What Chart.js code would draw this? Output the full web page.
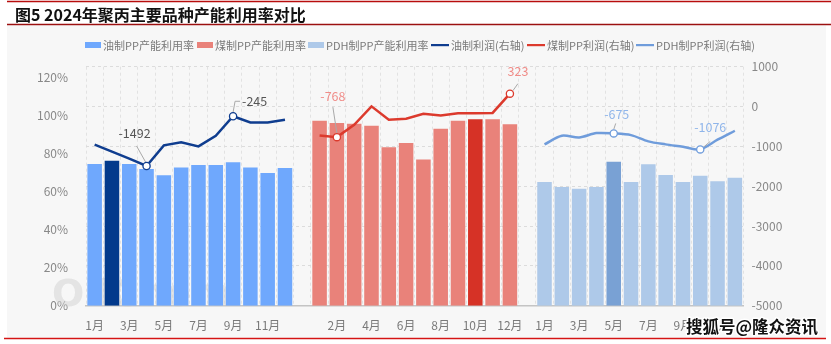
<!DOCTYPE html>
<html>
<head>
<meta charset="utf-8">
<script src="https://cdn.jsdelivr.net/npm/chart.js@4/dist/chart.umd.min.js"></script>
<style>
  html, body { margin: 0; padding: 0; background: #ffffff; }
  #wrap { position: relative; width: 831px; height: 344px; }
  canvas { display: block; }
</style>
</head>
<body>
<div id="wrap"><canvas id="c" width="831" height="344"></canvas></div>
<script>
// Month names shared by the three groups
const months = ['1月','2月','3月','4月','5月','6月','7月','8月','9月','10月','11月','12月'];

// Capacity utilisation, % (left axis)
const oilRate  = [74.6, 76.3, 74.6, 71.9, 68.6, 72.8, 74.0, 74.0, 75.5, 72.8, 69.8, 72.5];
const coalRate = [97.4, 96.2, 95.8, 94.7, 83.4, 85.6, 77.0, 93.2, 97.4, 98.1, 98.1, 95.5];
const pdhRate  = [65.1, 62.5, 61.6, 62.5, 75.8, 65.1, 74.4, 68.8, 65.1, 68.4, 65.5, 67.4];

// Profit, yuan/t (right axis)
const oilProfit  = [-958, -1130, -1310, -1492, -975, -900, -1000, -733, -245, -400, -400, -333];
const coalProfit = [-725, -768, -458, 5, -333, -308, -183, -225, -167, -167, -160, 323];
const pdhProfit  = [-950, -733, -775, -667, -675, -717, -875, -950, -1008, -1076, -833, -608];

// Highlighted month in each group
const oilHighlight = 1, coalHighlight = 9, pdhHighlight = 4;

// Left axis tick values
const rateTicks = [0, 20, 40, 60, 80, 100, 120];

// Category layout: 12 oil months, spacer, 12 coal months, spacer, 12 PDH months
const OIL0 = 0, COAL0 = 13, PDH0 = 26;
const labels = [...months, '', ...months, '', ...months];

function place(arr, offset) {
  return labels.map((_, i) => (i >= offset && i < offset + arr.length) ? arr[i - offset] : null);
}
function barColors(offset, hi, base, dark) {
  return labels.map((_, i) => (i === offset + hi ? dark : base));
}

const FONT = '"Noto Sans CJK SC", "Noto Sans", sans-serif';

const COLORS = {
  oilBar: '#6fa8fd', oilBarDark: '#033a8c',
  coalBar: '#e9827a', coalBarDark: '#d63226',
  pdhBar: '#aec9e9', pdhBarDark: '#79a1d4',
  oilLine: '#0f3d8f', coalLine: '#dc3a2d', pdhLine: '#6f9cdb',
  oilText: '#555555', coalText: '#f08c88', pdhText: '#8fb5ea'
};

// Points that carry a value label, with label offset and leader line
const callouts = [
  { ds: 0, i: OIL0 + 3,  color: COLORS.oilLine,  text: COLORS.oilText,  tx: -12, ty: -33, align: 'center', lead: [[-1,-4],[-10,-20]] },
  { ds: 0, i: OIL0 + 8,  color: COLORS.oilLine,  text: COLORS.oilText,  tx: 9,   ty: -15, align: 'left',   lead: [[0,-4],[2,-15],[7,-15]] },
  { ds: 1, i: COAL0 + 1, color: COLORS.coalLine, text: COLORS.coalText, tx: -4,  ty: -41, align: 'center', lead: [[0,-4],[-4,-30]] },
  { ds: 1, i: COAL0 + 11,color: COLORS.coalLine, text: COLORS.coalText, tx: 8,   ty: -22, align: 'center', lead: [[3,-3],[8,-10]] },
  { ds: 2, i: PDH0 + 4,  color: COLORS.pdhLine,  text: COLORS.pdhText,  tx: 3,   ty: -19, align: 'center', lead: [[0,-4],[2,-10]] },
  { ds: 2, i: PDH0 + 9,  color: COLORS.pdhLine,  text: COLORS.pdhText,  tx: 10,  ty: -22, align: 'center', lead: [[3,-2],[10,-8]] }
];

const legendItems = [
  { kind: 'box',  color: COLORS.oilBar,   label: '油制PP产能利用率', x: 85 },
  { kind: 'box',  color: COLORS.coalBar,  label: '煤制PP产能利用率', x: 197 },
  { kind: 'box',  color: COLORS.pdhBar,   label: 'PDH制PP产能利用率', x: 308 },
  { kind: 'line', color: COLORS.oilLine,  label: '油制利润(右轴)', x: 431 },
  { kind: 'line', color: COLORS.coalLine, label: '煤制PP利润(右轴)', x: 527 },
  { kind: 'line', color: COLORS.pdhLine,  label: 'PDH制PP利润(右轴)', x: 636 }
];

// Page frame, title, legend and watermarks
const framePlugin = {
  id: 'frame',
  beforeDraw(chart) {
    const ctx = chart.ctx;
    ctx.save();
    ctx.fillStyle = '#ffffff';
    ctx.fillRect(0, 0, chart.width, chart.height);
    ctx.fillStyle = '#f7f7f7';
    ctx.fillRect(7, 25.5, 819, 312);
    // rules
    ctx.lineWidth = 1.5;
    ctx.strokeStyle = '#b80d0d';
    ctx.beginPath(); ctx.moveTo(7, 1.5); ctx.lineTo(831, 1.5); ctx.stroke();
    ctx.strokeStyle = '#9b1010';
    ctx.beginPath(); ctx.moveTo(7, 24.5); ctx.lineTo(831, 24.5); ctx.stroke();
    ctx.strokeStyle = '#d41414';
    ctx.beginPath(); ctx.moveTo(4, 338.5); ctx.lineTo(826, 338.5); ctx.stroke();
    // title
    ctx.fillStyle = '#111111';
    ctx.font = 'bold 16px ' + FONT;
    ctx.textBaseline = 'middle';
    ctx.textAlign = 'left';
    ctx.fillText('图5 2024年聚丙主要品种产能利用率对比', 15, 14.5);
    // legend
    ctx.font = '11px ' + FONT;
    legendItems.forEach(it => {
      ctx.fillStyle = it.color;
      if (it.kind === 'box') {
        ctx.fillRect(it.x, 42, 16, 6);
      } else {
        ctx.fillRect(it.x, 44, 18, 2.2);
      }
      ctx.fillStyle = '#7a7a7a';
      ctx.fillText(it.label, it.x + (it.kind === 'box' ? 18 : 20), 45.5);
    });
    ctx.restore();
  },
  beforeDatasetsDraw(chart) {
    const ctx = chart.ctx;
    ctx.save();
    ctx.font = 'bold 38px "DejaVu Sans", sans-serif';
    ctx.fillStyle = 'rgba(205,205,205,0.45)';
    ctx.textBaseline = 'alphabetic';
    ctx.fillText('OilChem', 52, 306);
    ctx.restore();
  },
  afterDatasetsDraw(chart) {
    const ctx = chart.ctx;
    ctx.save();
    ctx.font = '12.5px ' + FONT;
    ctx.textBaseline = 'middle';
    callouts.forEach(c => {
      const pt = chart.getDatasetMeta(c.ds).data[c.i];
      const value = chart.data.datasets[c.ds].data[c.i];
      const x = pt.x, y = pt.y;
      ctx.strokeStyle = '#a9a9a9';
      ctx.lineWidth = 1;
      ctx.beginPath();
      c.lead.forEach((p, k) => k === 0 ? ctx.moveTo(x + p[0], y + p[1]) : ctx.lineTo(x + p[0], y + p[1]));
      ctx.stroke();
      ctx.beginPath();
      ctx.arc(x, y, 3.6, 0, Math.PI * 2);
      ctx.fillStyle = '#ffffff';
      ctx.fill();
      ctx.lineWidth = 1.3;
      ctx.strokeStyle = c.color;
      ctx.stroke();
      ctx.fillStyle = c.text;
      ctx.textAlign = c.align;
      ctx.fillText(String(value), x + c.tx, y + c.ty);
    });
    ctx.restore();
  },
  afterDraw(chart) {
    const ctx = chart.ctx;
    ctx.save();
    ctx.font = 'bold 16.5px ' + FONT;
    ctx.textBaseline = 'middle';
    ctx.textAlign = 'left';
    ctx.lineJoin = 'round';
    ctx.lineWidth = 3;
    ctx.strokeStyle = '#ffffff';
    ctx.strokeText('搜狐号@隆众资讯', 686, 326.5);
    ctx.fillStyle = '#111111';
    ctx.fillText('搜狐号@隆众资讯', 686, 326.5);
    ctx.restore();
  }
};

const lineBase = { type: 'line', yAxisID: 'y1', borderWidth: 2.5, pointRadius: 0, pointHoverRadius: 0, fill: false, spanGaps: false, order: 0 };
const barBase  = { type: 'bar', yAxisID: 'y', grouped: false, categoryPercentage: 1, barPercentage: 0.84, order: 1, borderWidth: 0 };

new Chart(document.getElementById('c'), {
  type: 'bar',
  data: {
    labels,
    datasets: [
      { ...lineBase, label: '油制利润(右轴)', data: place(oilProfit, OIL0), borderColor: COLORS.oilLine, tension: 0 },
      { ...lineBase, label: '煤制PP利润(右轴)', data: place(coalProfit, COAL0), borderColor: COLORS.coalLine, tension: 0 },
      { ...lineBase, label: 'PDH制PP利润(右轴)', data: place(pdhProfit, PDH0), borderColor: COLORS.pdhLine, tension: 0.3 },
      { ...barBase, label: '油制PP产能利用率', data: place(oilRate, OIL0), backgroundColor: barColors(OIL0, oilHighlight, COLORS.oilBar, COLORS.oilBarDark) },
      { ...barBase, label: '煤制PP产能利用率', data: place(coalRate, COAL0), backgroundColor: barColors(COAL0, coalHighlight, COLORS.coalBar, COLORS.coalBarDark) },
      { ...barBase, label: 'PDH制PP产能利用率', data: place(pdhRate, PDH0), backgroundColor: barColors(PDH0, pdhHighlight, COLORS.pdhBar, COLORS.pdhBarDark) }
    ]
  },
  options: {
    responsive: false,
    animation: false,
    devicePixelRatio: 1,
    layout: { padding: { top: 66.7, left: 0, right: 0, bottom: 0 } },
    plugins: { legend: { display: false }, tooltip: { enabled: false } },
    scales: {
      x: {
        grid: { color: '#e2e2e2', lineWidth: 1, offset: true, drawTicks: false },
        border: { color: '#c4c4c4', width: 1.6, dash: [3, 3] },
        ticks: {
          autoSkip: false, maxRotation: 0, minRotation: 0, padding: 13,
          color: '#7a7a7a', font: { size: 12, family: FONT },
          callback: (v, i) => (i % 2 === 0 ? labels[i] : '')
        },
        afterFit: s => { s.height = 38.3; }
      },
      y: {
        position: 'left',
        min: 0, max: 125.8,
        grid: { display: false },
        border: { display: false },
        ticks: {
          stepSize: 20, padding: 10, color: '#888888', font: { size: 12, family: FONT },
          callback: v => v + '%'
        },
        afterBuildTicks: s => { s.ticks = rateTicks.map(v => ({ value: v })); },
        afterFit: s => { s.width = 86; }
      },
      y1: {
        position: 'right',
        min: -5000, max: 1000,
        grid: { color: '#dcdcdc', lineWidth: 1, drawTicks: false },
        border: { display: false, dash: [3, 3] },
        ticks: { stepSize: 1000, padding: 8, color: '#888888', font: { size: 12, family: FONT }, callback: v => String(v) },
        afterFit: s => { s.width = 87.5; }
      }
    }
  },
  plugins: [framePlugin]
});
</script>
</body>
</html>
